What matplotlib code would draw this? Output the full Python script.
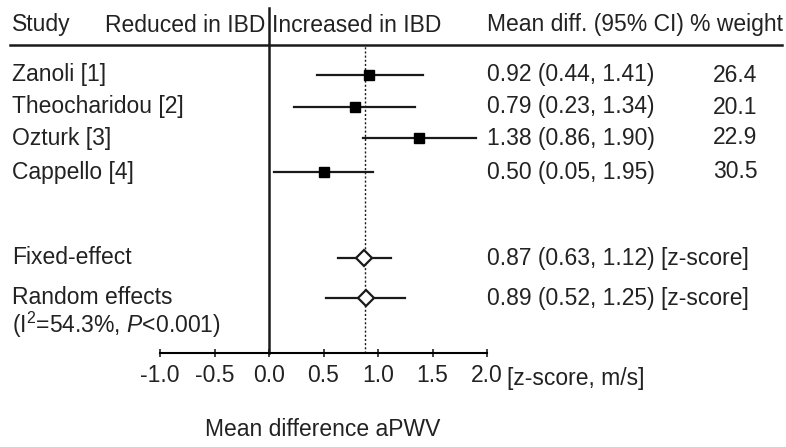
import matplotlib
matplotlib.use('Agg')
from matplotlib import pyplot as plt
from matplotlib.lines import Line2D

plt.rcParams['font.family'] = ['Liberation Sans', 'DejaVu Sans']
plt.rcParams['mathtext.fontset'] = 'custom'
plt.rcParams['mathtext.rm'] = 'Liberation Sans'
plt.rcParams['mathtext.it'] = 'Liberation Sans:italic'

# study data
studies = ['Zanoli [1]', 'Theocharidou [2]', 'Ozturk [3]', 'Cappello [4]']
mean = [0.92, 0.79, 1.38, 0.50]
ci_lo = [0.44, 0.23, 0.86, 0.05]
ci_hi = [1.41, 1.34, 1.90, 0.95]   # as drawn
ci_text = ['0.92 (0.44, 1.41)', '0.79 (0.23, 1.34)', '1.38 (0.86, 1.90)', '0.50 (0.05, 1.95)']
weight = [26.4, 20.1, 22.9, 30.5]

# pooled estimates
pooled = ['Fixed-effect', 'Random effects']
pooled_mean = [0.87, 0.89]
pooled_lo = [0.63, 0.52]
pooled_hi = [1.12, 1.25]
pooled_text = ['0.87 (0.63, 1.12) [z-score]', '0.89 (0.52, 1.25) [z-score]']
ref_line = 0.88

xticks = [-1.0, -0.5, 0.0, 0.5, 1.0, 1.5, 2.0]

W, H = 786, 447
FS = 16.5
fig = plt.figure(figsize=(W/100, H/100), dpi=100)

# axes: x from -1 (px 160) to 2 (px 487), y px 45..353
ax = fig.add_axes([160/W, 1-353/H, 327/W, (353-45)/H])
ax.set_xlim(-1, 2)
ax.set_ylim(353, 45)
for s in ['top', 'right', 'left']:
    ax.spines[s].set_visible(False)
ax.spines['bottom'].set_linewidth(1.5)
ax.set_yticks([])
ax.set_xticks(xticks)
ax.set_xticklabels(['%.1f' % t for t in xticks])
ax.tick_params(axis='x', direction='inout', length=6, width=1.2, labelsize=FS, pad=5, colors='#222222')
ax.patch.set_alpha(0)

c = '#1a1a1a'
row_y = [75, 107, 138, 172]
pool_y = [258, 298]

# zero line and reference line
ax.plot([0, 0], [8, 353], color=c, lw=1.8, clip_on=False)
ax.axvline(ref_line, color=c, lw=1.0, ls=(0, (1.5, 1.5)))

for i in range(len(studies)):
    ax.plot([ci_lo[i], ci_hi[i]], [row_y[i], row_y[i]], color=c, lw=1.6)
    ax.plot(mean[i], row_y[i], 's', color='black', ms=7.5)

for i in range(len(pooled)):
    ax.plot([pooled_lo[i], pooled_hi[i]], [pool_y[i], pool_y[i]], color=c, lw=1.6)
    ax.plot(pooled_mean[i], pool_y[i], 'D', mfc='white', mec=c, mew=1.6, ms=8)

def txt(x, y, s, **kw):
    kw.setdefault('va', 'center')
    kw.setdefault('fontsize', FS)
    kw.setdefault('color', '#222222')
    fig.text(x/W, 1-y/H, s, **kw)

# header
txt(12, 25, 'Study')
txt(265, 25, 'Reduced in IBD', ha='right')
txt(272, 25, 'Increased in IBD')
txt(487, 25, 'Mean diff. (95% CI)')
txt(690, 25, '% weight')
fig.add_artist(Line2D([10/W, 782/W], [1-45/H, 1-45/H], color=c, lw=1.8))

for i in range(len(studies)):
    txt(12, row_y[i], studies[i])
    txt(487, row_y[i], ci_text[i])
    txt(735, row_y[i], '%.1f' % weight[i], ha='center')

for i in range(len(pooled)):
    txt(12, pool_y[i], pooled[i])
    txt(487, pool_y[i], pooled_text[i])
txt(12, 325, r'(I$^2$=54.3%, $P$<0.001)')

txt(507, 378, '[z-score, m/s]')
txt(323, 430, 'Mean difference aPWV', ha='center')

fig.savefig('out.png', dpi=100)
